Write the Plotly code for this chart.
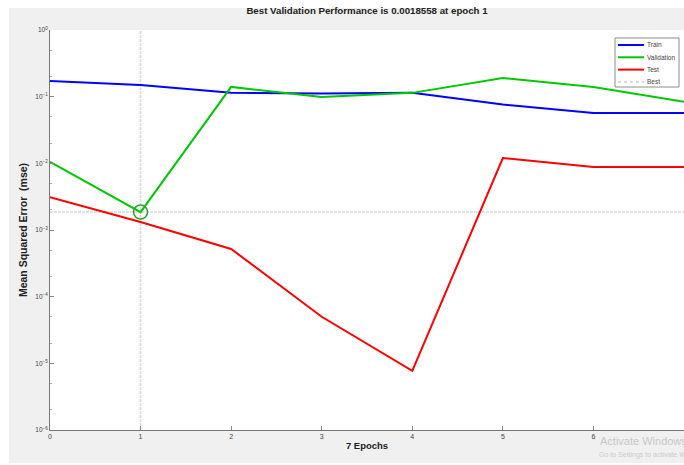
import plotly.graph_objects as go

epochs = [0, 1, 2, 3, 4, 5, 6, 7]
train = [0.172, 0.150, 0.114, 0.112, 0.114, 0.076, 0.057, 0.057]
validation = [0.0105, 0.0018558, 0.140, 0.099, 0.114, 0.190, 0.140, 0.084]
test = [0.0031, 0.00132, 0.00052, 5.0e-5, 7.7e-6, 0.012, 0.0088, 0.0088]
best_epoch = 1
best_value = 0.0018558
y_limits = [1e-6, 1e0]
x_limits = [0, 7]

x_tick_labels = ["0", "1", "2", "3", "4", "5", "6", ""]
y_tick_values = [1e-6, 1e-5, 1e-4, 1e-3, 1e-2, 1e-1, 1e0]
y_tick_labels = ["10<sup>\u22126</sup>", "10<sup>\u22125</sup>", "10<sup>\u22124</sup>",
                 "10<sup>\u22123</sup>", "10<sup>\u22122</sup>", "10<sup>\u22121</sup>",
                 "10<sup>0</sup>"]

legend_names = ["Train", "Validation", "Test", "Best"]
title = "Best Validation Performance is 0.0018558 at epoch 1"
xlabel = "7 Epochs"
ylabel = "Mean Squared Error  (mse)"
watermark = ["Activate Windows", "Go to Settings to activate Windows."]

colors = {"Train": "#0000ff", "Validation": "#00c800", "Test": "#ff0000",
          "Best": "#dadada"}

font = "Liberation Sans, Arial, sans-serif"

# plot area in pixels
L, R, T, B = 50, 684, 30, 430
PW, PH = R - L, B - T


def px(xp):
    return (xp - L) / PW


def py(yp):
    return (B - yp) / PH


fig = go.Figure()
fig.add_trace(go.Scatter(
    x=[best_epoch, best_epoch, None, x_limits[0], x_limits[1]],
    y=[y_limits[0], y_limits[1], None, best_value, best_value],
    mode="lines", name="Best", showlegend=False,
    line=dict(color=colors["Best"], width=1.5, dash="3px,1px")))
fig.add_trace(go.Scatter(x=epochs, y=train, mode="lines", name="Train",
                         showlegend=False,
                         line=dict(color=colors["Train"], width=2)))
fig.add_trace(go.Scatter(x=epochs, y=validation, mode="lines", name="Validation",
                         showlegend=False,
                         line=dict(color=colors["Validation"], width=2)))
fig.add_trace(go.Scatter(x=epochs, y=test, mode="lines", name="Test",
                         showlegend=False,
                         line=dict(color=colors["Test"], width=2)))
fig.add_trace(go.Scatter(x=[best_epoch], y=[best_value], mode="markers",
                         showlegend=False,
                         marker=dict(symbol="circle-open", size=14,
                                     color="#30a030", line=dict(width=1.5))))

shapes = [
    # white outer border (screenshot margin)
    dict(type="rect", xref="paper", yref="paper",
         x0=px(0), x1=px(9), y0=py(465), y1=py(0),
         fillcolor="white", line=dict(width=0), layer="above"),
    dict(type="rect", xref="paper", yref="paper",
         x0=px(0), x1=px(684), y0=py(8), y1=py(0),
         fillcolor="white", line=dict(width=0), layer="above"),
    dict(type="rect", xref="paper", yref="paper",
         x0=px(0), x1=px(684), y0=py(465), y1=py(463),
         fillcolor="white", line=dict(width=0), layer="above"),
    # legend box
    dict(type="rect", xref="paper", yref="paper",
         x0=px(615), x1=px(679), y0=py(87), y1=py(38),
         fillcolor="white", line=dict(color="#8c8c8c", width=1), layer="above"),
]
annotations = []
for i, name in enumerate(legend_names):
    yy = 45 + i * 12.3
    shapes.append(dict(type="line", xref="paper", yref="paper",
                       x0=px(618), x1=px(644), y0=py(yy), y1=py(yy),
                       line=dict(color=colors[name], width=2,
                                 dash="dot" if name == "Best" else "solid"),
                       layer="above"))
    annotations.append(dict(text=name, xref="paper", yref="paper",
                            x=px(645), y=py(yy), xanchor="left", yanchor="middle",
                            showarrow=False,
                            font=dict(size=6.5, color="#444444")))

annotations += [
    dict(text=watermark[0], xref="paper", yref="paper",
         x=px(598), y=py(441), xanchor="left", yanchor="middle",
         showarrow=False, font=dict(size=11, color="#c8c8c8")),
    dict(text=watermark[1], xref="paper", yref="paper",
         x=px(597), y=py(455), xanchor="left", yanchor="middle",
         showarrow=False, font=dict(size=7, color="#cccccc")),
]

fig.update_layout(
    width=684, height=465,
    margin=dict(l=L, r=684 - R, t=T, b=465 - B),
    paper_bgcolor="#f0f0f0",
    plot_bgcolor="white",
    font=dict(family=font, size=7, color="#333333"),
    title=dict(text="<b>" + title + "</b>", x=(L + R) / 2 / 684, xanchor="center",
               y=1 - 11 / 465, yanchor="middle",
               font=dict(size=9.7, color="#222222")),
    showlegend=False,
    shapes=shapes,
    annotations=annotations,
)

fig.update_xaxes(
    range=x_limits, tickmode="array", tickvals=epochs, ticktext=x_tick_labels,
    ticks="inside", ticklen=4, tickcolor="#888888",
    showline=True, linecolor="#777777", linewidth=1,
    showgrid=False, zeroline=False,
    title=dict(text="<b>" + xlabel + "</b>", font=dict(size=9.5, color="#222222"),
               standoff=2),
    tickfont=dict(size=7, color="#444444"),
)
fig.update_yaxes(
    type="log", range=[-6, 0], tickmode="array",
    tickvals=y_tick_values, ticktext=y_tick_labels,
    ticks="inside", ticklen=4, tickcolor="#888888",
    minor=dict(ticks="inside", ticklen=2, tickcolor="#aaaaaa", showgrid=False),
    showline=True, linecolor="#777777", linewidth=1,
    showgrid=False, zeroline=False,
    title=dict(text="<b>" + ylabel + "</b>", font=dict(size=10.5, color="#222222"),
               standoff=5),
    tickfont=dict(size=6.5, color="#444444"),
)

fig.write_html("out.html")
